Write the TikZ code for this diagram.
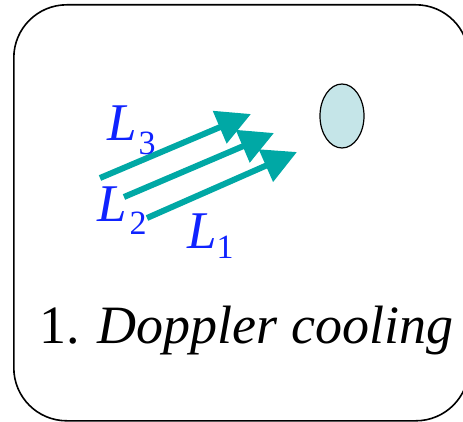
\documentclass[tikz,border=0pt]{standalone}
\usepackage{fontspec}
\setmainfont{Liberation Serif}
\usetikzlibrary{arrows.meta,shapes.geometric}
\definecolor{laser}{RGB}{0,168,165}
\definecolor{ionfill}{RGB}{197,229,232}
\definecolor{lblue}{RGB}{15,35,255}
\begin{document}
\begin{tikzpicture}[x=1pt,y=-1pt,
  laserbeam/.style={draw=laser,line width=6pt,-{Triangle[length=34pt,width=34pt,fill=laser]}},
  lab/.style={text=lblue,inner sep=0pt,anchor=base west,font=\fontsize{53}{60}\selectfont\itshape}]
\useasboundingbox (0,0) rectangle (463,422);
\node[draw, line width=1.6pt, rounded corners=53pt, minimum width=455pt, minimum height=416pt, inner sep=0pt, anchor=north west] (frame) at (13,4) {};
\node[ellipse, draw, fill=ionfill, minimum width=44pt, minimum height=64pt, inner sep=0pt, line width=1.2pt] (ion) at (342,116) {};
\coordinate (s3) at (100,178); \coordinate (t3) at (251,114);
\coordinate (s2) at (124,197); \coordinate (t2) at (274,133);
\coordinate (s1) at (147,218); \coordinate (t1) at (297,152);
\draw[laserbeam] (s3) -- (t3);
\draw[laserbeam] (s2) -- (t2);
\draw[laserbeam] (s1) -- (t1);
\newcommand{\mysub}[2]{\raisebox{-#1pt}{\fontsize{34}{34}\selectfont\upshape #2}}
\node[lab] (L3) at (107,141) {L\kern2pt\mysub{14}{3}};
\node[lab] (L2) at (97,222) {L\kern3pt\mysub{13}{2}};
\node[lab] (L1) at (187,248) {L\kern0pt\mysub{10}{1}};
\node[anchor=base west, inner sep=0pt, font=\fontsize{54}{60}\selectfont] (title) at (39,343) {1. \textit{Doppler cooling}};
\end{tikzpicture}
\end{document}
